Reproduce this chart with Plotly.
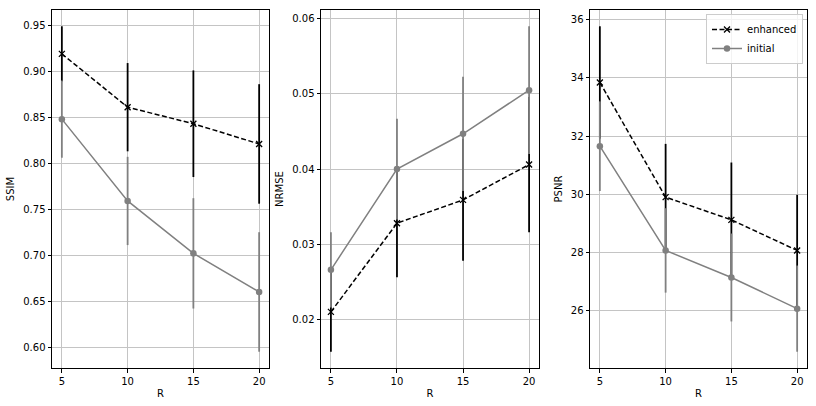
import plotly.graph_objects as go

# ---- data ----
R = [5, 10, 15, 20]

ssim_enh = [0.919, 0.861, 0.843, 0.821]
ssim_enh_err = [0.030, 0.048, 0.058, 0.065]
ssim_ini = [0.848, 0.759, 0.702, 0.660]
ssim_ini_err = [0.042, 0.048, 0.060, 0.065]

nrmse_enh = [0.0210, 0.0328, 0.0359, 0.0406]
nrmse_enh_err = [0.0053, 0.0072, 0.0081, 0.0090]
nrmse_ini = [0.0266, 0.0400, 0.0447, 0.0505]
nrmse_ini_err = [0.0050, 0.0067, 0.0076, 0.0085]

psnr_enh = [33.84, 29.90, 29.12, 28.07]
psnr_enh_err = [1.93, 1.83, 1.97, 1.91]
psnr_ini = [31.65, 28.07, 27.14, 26.07]
psnr_ini_err = [1.54, 1.45, 1.51, 1.48]

metric_names = ["SSIM", "NRMSE", "PSNR"]
y_ticks = [
    [0.60, 0.65, 0.70, 0.75, 0.80, 0.85, 0.90, 0.95],
    [0.02, 0.03, 0.04, 0.05, 0.06],
    [26, 28, 30, 32, 34, 36],
]
y_tickfmt = [".2f", ".2f", "d"]
x_ticks = [5, 10, 15, 20]

panels = [
    (ssim_enh, ssim_enh_err, ssim_ini, ssim_ini_err),
    (nrmse_enh, nrmse_enh_err, nrmse_ini, nrmse_ini_err),
    (psnr_enh, psnr_enh_err, psnr_ini, psnr_ini_err),
]

W, H = 816, 406
ML, MR, MT, MB = 52, 9, 10, 38
PW = W - ML - MR
PH = H - MT - MB
x_px = [(52, 269), (321, 539), (590, 807)]
x_domains = [((a - ML) / PW, (b - ML) / PW) for a, b in x_px]

FONT = "DejaVu Sans"
GRAY = "#808080"

fig = go.Figure()

def pad_range(lo, hi, frac=0.05):
    d = hi - lo
    return [lo - frac * d, hi + frac * d]

for i, (enh, enh_err, ini, ini_err) in enumerate(panels):
    xa = "x" if i == 0 else f"x{i+1}"
    ya = "y" if i == 0 else f"y{i+1}"
    show = (i == 2)
    fig.add_trace(go.Scatter(
        x=R, y=enh, mode="lines+markers", name="enhanced",
        xaxis=xa, yaxis=ya, showlegend=show, legendrank=1,
        line=dict(color="black", width=1.5, dash="5px,2.5px"),
        marker=dict(symbol="x-thin", size=6, color="black",
                    line=dict(color="black", width=1.3)),
        error_y=dict(type="data", array=enh_err, visible=True,
                     color="black", thickness=1.8, width=0),
    ))
    fig.add_trace(go.Scatter(
        x=R, y=ini, mode="lines+markers", name="initial",
        xaxis=xa, yaxis=ya, showlegend=show, legendrank=2,
        line=dict(color=GRAY, width=1.5),
        marker=dict(symbol="circle", size=6.5, color=GRAY),
        error_y=dict(type="data", array=ini_err, visible=True,
                     color=GRAY, thickness=1.8, width=0),
    ))

    lo = min(v - e for v, e in zip(enh + ini, enh_err + ini_err))
    hi = max(v + e for v, e in zip(enh + ini, enh_err + ini_err))
    yr = pad_range(lo, hi)
    xr = pad_range(min(R), max(R))

    axis_common = dict(
        showline=True, linecolor="black", linewidth=1, mirror=True,
        ticks="outside", ticklen=3.5, tickwidth=0.8, tickcolor="black",
        showgrid=True, gridcolor="#c4c4c4", gridwidth=0.8,
        zeroline=False, automargin=False,
        tickfont=dict(family=FONT, size=10, color="black"),
    )
    xkey = "xaxis" if i == 0 else f"xaxis{i+1}"
    ykey = "yaxis" if i == 0 else f"yaxis{i+1}"
    fig.update_layout(**{
        xkey: dict(
            domain=list(x_domains[i]), anchor=ya, range=xr,
            tickvals=x_ticks, ticktext=[str(t) for t in x_ticks],
            title=dict(text="R", font=dict(family=FONT, size=10, color="black"), standoff=4),
            **axis_common,
        ),
        ykey: dict(
            domain=[0, 1], anchor=xa, range=yr,
            tickvals=y_ticks[i], tickformat=y_tickfmt[i],
            title=dict(text=metric_names[i], font=dict(family=FONT, size=10, color="black"), standoff=6),
            **axis_common,
        ),
    })

fig.update_layout(
    width=W, height=H,
    margin=dict(l=ML, r=MR, t=MT, b=MB, autoexpand=False),
    paper_bgcolor="white", plot_bgcolor="white",
    font=dict(family=FONT, size=10, color="black"),
    legend=dict(
        x=1 - 4 / PW, y=1 - 4 / PH,
        xanchor="right", yanchor="top",
        bgcolor="rgba(255,255,255,0.8)", bordercolor="#cccccc", borderwidth=1,
        font=dict(family=FONT, size=10, color="black"),
        tracegroupgap=0, itemwidth=30,
    ),
)

fig.write_html("out.html", config={"displayModeBar": False},
               post_script="document.body.style.margin='0px';")
